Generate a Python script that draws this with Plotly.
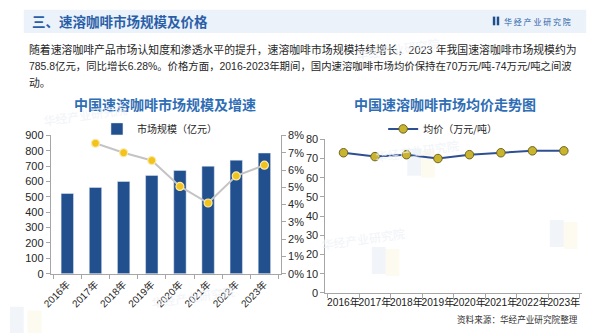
import plotly.graph_objects as go

# ---- data ----
years = ["2016年", "2017年", "2018年", "2019年", "2020年", "2021年", "2022年", "2023年"]
market_size = [521.9, 561.3, 600.6, 640.0, 672.3, 699.8, 739.4, 785.8]   # 亿元
growth_pct = [None, 7.55, 7.0, 6.55, 5.05, 4.09, 5.66, 6.28]             # %
avg_price = [73, 71, 72, 70, 72, 73, 74, 74]                             # 万元/吨

W, H = 600, 333
FONT = "Liberation Sans, Arial, Noto Sans CJK SC, sans-serif"
CJK = "Noto Sans CJK SC, sans-serif"


def px(x):
    return x / W


def py(y):
    return 1 - y / H


fig = go.Figure()

fig.add_trace(go.Bar(
    x=years, y=market_size, name="市场规模（亿元）",
    marker=dict(color="#22508f"), width=0.44,
    xaxis="x", yaxis="y", legend="legend",
))
fig.add_trace(go.Scatter(
    x=years, y=growth_pct, mode="lines+markers", name="增速",
    line=dict(color="#c4c4c4", width=2),
    marker=dict(color="#f2c31c", size=8, line=dict(color="#fbe9a8", width=1.2)),
    xaxis="x", yaxis="y2", showlegend=False,
))
fig.add_trace(go.Scatter(
    x=years, y=avg_price, mode="lines+markers", name="均价（万元/吨）",
    line=dict(color="#2f4f93", width=2),
    marker=dict(color="#c9b42f", size=8.5, line=dict(color="#6f6420", width=1)),
    xaxis="x2", yaxis="y3", legend="legend2",
))

axis_common = dict(showgrid=False, zeroline=False, showline=True,
                   linecolor="#a6a6a6", linewidth=1, ticks="outside",
                   tickcolor="#a6a6a6", ticklen=4,
                   tickfont=dict(family=FONT, size=11, color="#262626"))

fig.update_layout(
    width=W, height=H, margin=dict(l=0, r=0, t=0, b=0),
    paper_bgcolor="white", plot_bgcolor="rgba(0,0,0,0)",
    xaxis=dict(domain=[px(41.5), px(275.5)], anchor="y", type="category",
               tickson="boundaries", tickangle=-45,
               **{**axis_common, "tickfont": dict(family=FONT, size=10, color="#262626")}),
    yaxis=dict(domain=[py(277.7), py(134.3)], range=[0, 900], dtick=100,
               anchor="x", **axis_common),
    yaxis2=dict(range=[0, 8], dtick=1, ticksuffix="%", overlaying="y",
                side="right", anchor="x", **axis_common),
    xaxis2=dict(domain=[px(320.7), px(581.7)], anchor="y3", type="category",
                tickson="boundaries", tickangle=0,
                **{**axis_common, "tickfont": dict(family=FONT, size=10.2, color="#1a1a1a")}),
    yaxis3=dict(domain=[py(297.7), py(138.3)], range=[0, 80], dtick=10,
                anchor="x2", **axis_common),
    legend=dict(x=px(152), y=py(127.5), xanchor="center", yanchor="middle",
                orientation="h", bgcolor="rgba(0,0,0,0)",
                font=dict(family=CJK, size=10, color="#262626"),
                itemwidth=30),
    legend2=dict(x=px(440), y=py(127.5), xanchor="center", yanchor="middle",
                 orientation="h", bgcolor="rgba(0,0,0,0)",
                 font=dict(family=CJK, size=10, color="#262626"),
                 itemwidth=30),
    showlegend=True,
)

shapes = []
# light header band
shapes.append(dict(type="rect", xref="paper", yref="paper",
                   x0=px(14), x1=px(586), y0=py(28), y1=py(4),
                   line=dict(width=0), fillcolor="#ebf2fa", layer="below"))
# faint watermark blocks
for (x0, y0, c) in [(404, 148, "#e4ecf6"), (418, 150, "#fcf6e0"),
                    (368, 250, "#e4ecf6"), (382, 252, "#fcf6e0"),
                    (549, 222, "#e4ecf6"), (563, 224, "#fcf6e0"),
                    (0, 312, "#e4ecf6"), (18, 316, "#fcf6e0")]:
    shapes.append(dict(type="rect", xref="paper", yref="paper",
                       x0=px(x0), x1=px(x0 + 14), y0=py(y0 + 28), y1=py(y0),
                       line=dict(width=0), fillcolor=c, opacity=0.5,
                       layer="below"))
# logo bars
for x0 in (491, 495):
    shapes.append(dict(type="rect", xref="paper", yref="paper",
                       x0=px(x0), x1=px(x0 + 2.5), y0=py(20), y1=py(11),
                       line=dict(width=0), fillcolor="#1f4e8c"))
fig.update_layout(shapes=shapes)

ann = []


def text(x, y, s, size, color, anchor="left", bold=False, family=CJK, **kw):
    ann.append(dict(x=px(x), y=py(y), xref="paper", yref="paper",
                    text=f"<b>{s}</b>" if bold else s, showarrow=False,
                    xanchor=anchor, yanchor="middle",
                    font=dict(family=family, size=size, color=color), **kw))


text(20, 16, "三、速溶咖啡市场规模及价格", 13.5, "#2a5fa8", bold=True)
text(500, 16, "华 经 产 业 研 究 院", 8, "#2a5fa8")

para = [
    ("随着速溶咖啡产品市场认知度和渗透水平的提升，速溶咖啡市场规模持续增长，2023 年我国速溶咖啡市场规模约为", 10.85),
    ("785.8亿元，同比增长6.28%。价格方面，2016-2023年期间，国内速溶咖啡市场均价保持在70万元/吨-74万元/吨之间波", 10.4),
    ("动。", 10.85),
]
for i, (line, size) in enumerate(para):
    text(17, 45 + i * 17.5, line, size, "#262626", family=FONT)

text(157.5, 101.5, "中国速溶咖啡市场规模及增速", 14, "#2f6db5", anchor="center", bold=True)
text(442.5, 101.5, "中国速溶咖啡市场均价走势图", 14, "#2f6db5", anchor="center", bold=True)
text(580, 325, "资料来源：华经产业研究院整理", 8.6, "#333333", anchor="right")

# faint watermark text
for (x, y) in [(440, 27), (30, 95), (460, 150), (140, 318), (405, 258)]:
    ann.append(dict(x=px(x), y=py(y), xref="paper", yref="paper",
                    text="华经产业研究院", showarrow=False, textangle=-8,
                    font=dict(family=CJK, size=12, color="#eef2f7"),
                    opacity=0.8))

fig.update_layout(annotations=ann)

fig.write_html("out.html")
